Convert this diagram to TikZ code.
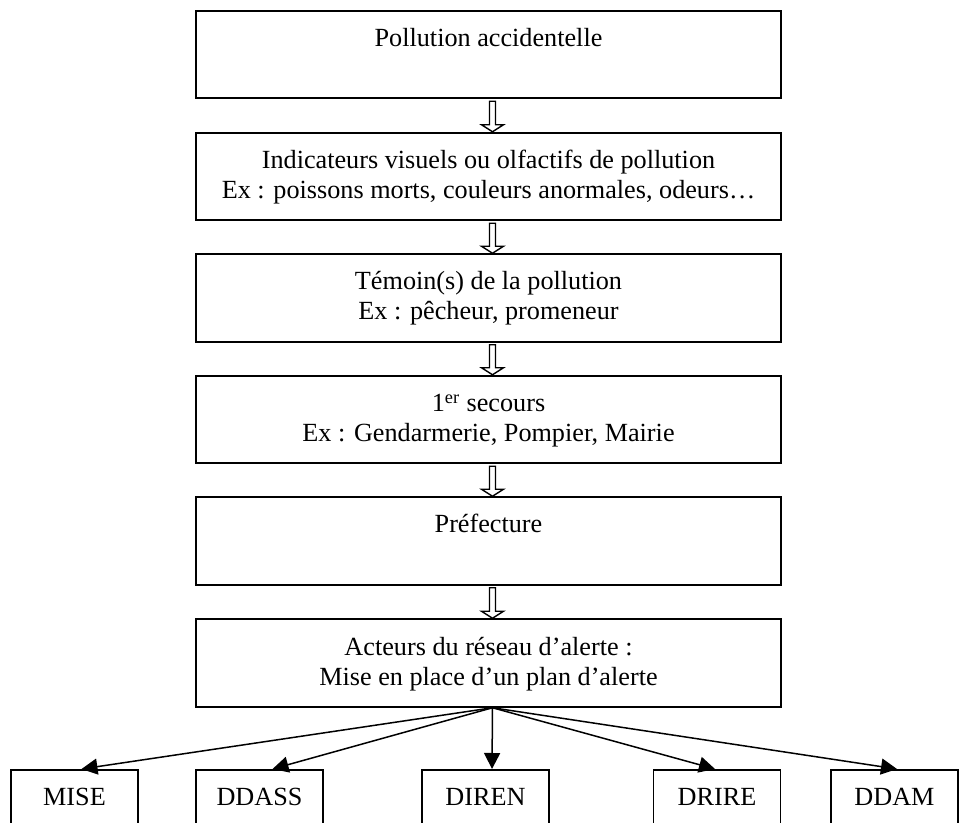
\documentclass[tikz,border=0pt]{standalone}
\usepackage{fontspec}
\setmainfont{Liberation Serif}
\usetikzlibrary{arrows.meta,calc}
\begin{document}
\begin{tikzpicture}[x=0.5pt,y=-0.5pt,
  mainbox/.style={draw, line width=1pt, minimum width=292.5pt, minimum height=43.75pt, inner sep=0pt},
  leafbox/.style={draw, line width=0.8pt, minimum width=63.5pt, minimum height=44pt, inner sep=0pt},
  txt/.style={anchor=base, inner sep=0pt, font=\fontsize{13.1pt}{15pt}\selectfont},
  hollow/.style={draw, fill=white, line width=0.7pt, line join=miter},
  conn/.style={line width=0.75pt, -{Triangle[length=8pt,width=8pt]}}
]
\useasboundingbox (0,0) rectangle (959,823);
\clip (0,0) rectangle (959,823);

% main chain of boxes
\node[mainbox] (b1) at (488.5,54.5) {};
\node[mainbox] (b2) at (488.5,176.5) {};
\node[mainbox] (b3) at (488.5,298) {};
\node[mainbox] (b4) at (488.5,419.5) {};
\node[mainbox] (b5) at (488.5,541) {};
\node[mainbox] (b6) at (488.5,663) {};

\node[txt] (t1a) at (488.5,47) {Pollution accidentelle};
\node[txt] (t2a) at (488.5,169) {Indicateurs visuels ou olfactifs de pollution};
\node[txt] (t2b) at (488.5,199) {Ex : poissons morts, couleurs anormales, odeurs…};
\node[txt] (t3a) at (488.5,290) {Témoin(s) de la pollution};
\node[txt] (t3b) at (488.5,320) {Ex : pêcheur, promeneur};
\node[txt] (t4a) at (488.5,412) {1\textsuperscript{er} secours};
\node[txt] (t4b) at (488.5,442) {Ex : Gendarmerie, Pompier, Mairie};
\node[txt] (t5a) at (488.5,533) {Préfecture};
\node[txt] (t6a) at (488.5,655) {Acteurs du réseau d’alerte :};
\node[txt] (t6b) at (488.5,685) {Mise en place d’un plan d’alerte};

% hollow arrows between consecutive boxes
\foreach \a/\b in {b1/b2,b2/b3,b3/b4,b4/b5,b5/b6}{
  \draw[hollow] ($(\a.south)+(1,2)$) -- ($(\b.north)+(1,-7)$) -- ($(\b.north)+(-7,-7)$)
    -- ($(\b.north)+(4,0)$) -- ($(\b.north)+(15,-7)$) -- ($(\b.north)+(7,-7)$)
    -- ($(\a.south)+(7,2)$) -- cycle;
}

% services alerted
\node[leafbox, anchor=north] (mise)  at (74.5,769) {};
\node[leafbox, anchor=north] (ddass) at (259.5,769) {};
\node[leafbox, anchor=north] (diren) at (485.5,769) {};
\node[leafbox, anchor=north] (drire) at (717,769) {};
\node[leafbox, anchor=north] (ddam)  at (894.5,769) {};

\node[txt] at (74.5,805) {MISE};
\node[txt] at (259.5,805) {DDASS};
\node[txt] at (485.5,805) {DIREN};
\node[txt] at (717,805) {DRIRE};
\node[txt] at (894.5,805) {DDAM};

\coordinate (hub) at ($(b6.south)+(4,0)$);
\draw[conn] (hub) -- ($(mise.north)+(7,0)$);
\draw[conn] (hub) -- ($(ddass.north)+(13,0)$);
\draw[conn] (hub) -- ($(diren.north)+(6.5,0)$);
\draw[conn] (hub) -- ($(drire.north)+(-2,0)$);
\draw[conn] (hub) -- ($(ddam.north)+(2.5,0)$);
\end{tikzpicture}
\end{document}
